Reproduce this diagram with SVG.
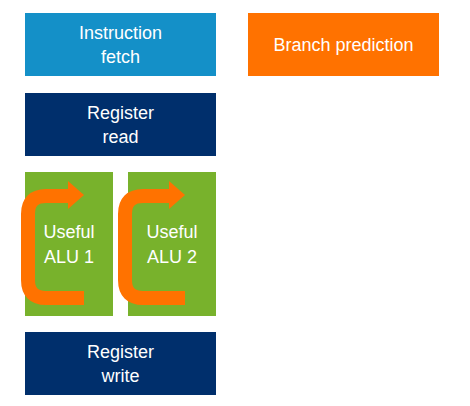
<svg xmlns="http://www.w3.org/2000/svg" width="470" height="406" viewBox="0 0 470 406">
  <style>
    .lbl { font-family: "Liberation Sans", Arial, sans-serif; font-size: 18px; fill: #ffffff; text-anchor: middle; }
    .arrow { fill: none; stroke: #ff7200; stroke-width: 14; }
    .head { fill: #ff7200; }
  </style>
  <rect width="470" height="406" fill="#ffffff"/>
  <g id="instruction-fetch">
    <rect x="25" y="13" width="191" height="63" fill="#1490c8"/>
    <text class="lbl" x="120.5" y="39">Instruction</text>
    <text class="lbl" x="120.5" y="63">fetch</text>
  </g>
  <g id="branch-prediction">
    <rect x="248" y="13" width="191" height="63" fill="#ff7200"/>
    <text class="lbl" x="343.5" y="51">Branch prediction</text>
  </g>
  <g id="register-read">
    <rect x="25" y="93" width="191" height="63" fill="#002f6c"/>
    <text class="lbl" x="120.5" y="119">Register</text>
    <text class="lbl" x="120.5" y="143">read</text>
  </g>
  <g id="alu1">
    <rect x="25" y="172" width="88" height="144" fill="#78b22c"/>
  </g>
  <g id="alu2">
    <rect x="128" y="172" width="88" height="144" fill="#78b22c"/>
  </g>
  <g id="connectors">
    <path class="arrow" d="M 84 298 L 46 298 Q 28 298 28 280 L 28 214 Q 28 196 46 196 L 70 196"/>
    <polygon class="head" points="68,181 84,195 68,209"/>
    <path class="arrow" d="M 185 298 L 143 298 Q 125 298 125 280 L 125 214 Q 125 196 143 196 L 171 196"/>
    <polygon class="head" points="169,181 185,195 169,209"/>
  </g>
  <g id="alu-labels">
    <text class="lbl" x="69" y="238">Useful</text>
    <text class="lbl" x="69" y="263">ALU 1</text>
    <text class="lbl" x="172" y="238">Useful</text>
    <text class="lbl" x="172" y="263">ALU 2</text>
  </g>
  <g id="register-write">
    <rect x="25" y="332" width="191" height="63" fill="#002f6c"/>
    <text class="lbl" x="120.5" y="358">Register</text>
    <text class="lbl" x="120.5" y="382">write</text>
  </g>
</svg>
